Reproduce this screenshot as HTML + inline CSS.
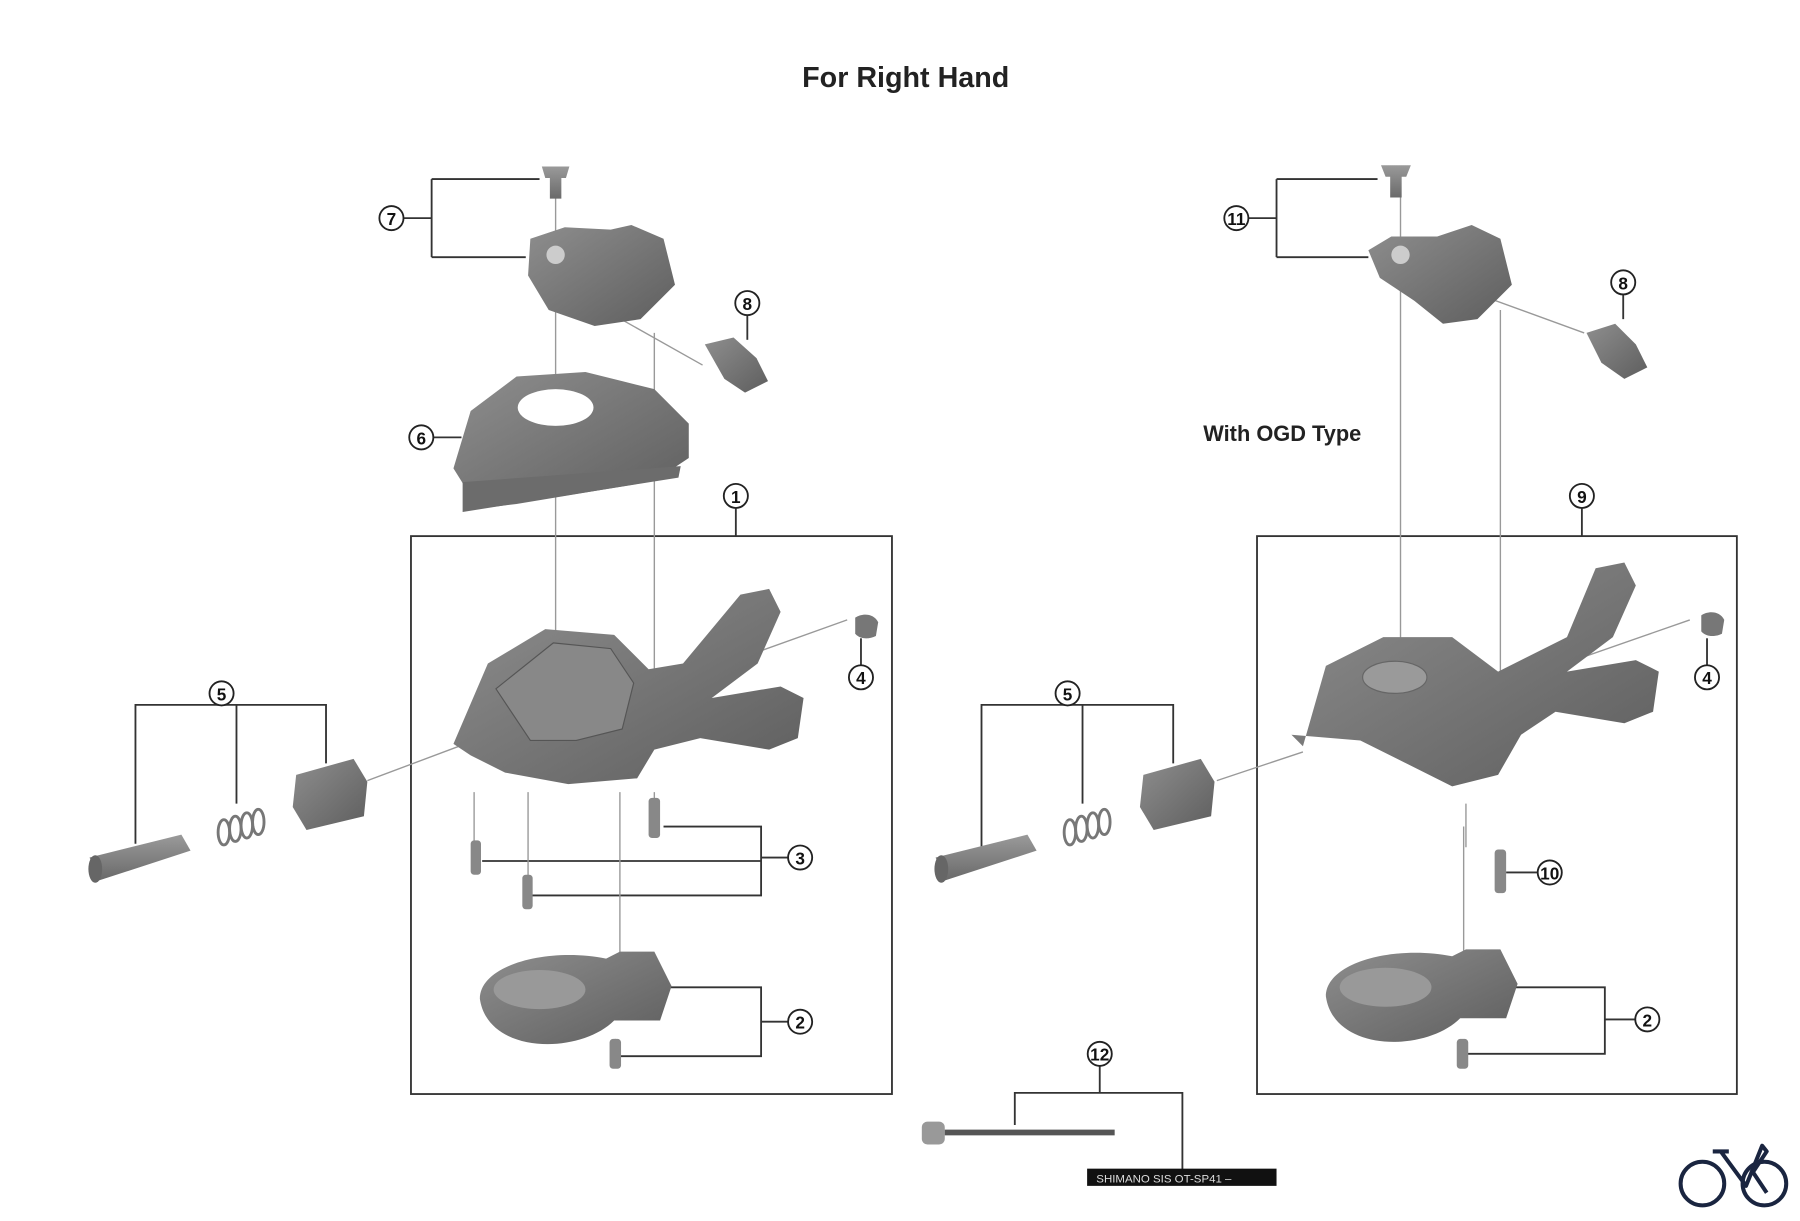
<!DOCTYPE html>
<html><head><meta charset="utf-8"><style>
html,body{margin:0;padding:0;background:#fff;}
svg{display:block;}
text{font-family:"Liberation Sans",Arial,sans-serif;}
</style></head><body>
<svg width="1800" height="1221" viewBox="0 0 1568 1063.6" preserveAspectRatio="none" xmlns="http://www.w3.org/2000/svg">
<defs>
<linearGradient id="g1" x1="0" y1="0" x2="0" y2="1"><stop offset="0" stop-color="#9a9a9a"/><stop offset="1" stop-color="#6a6a6a"/></linearGradient>
<linearGradient id="g2" x1="0" y1="0" x2="1" y2="1"><stop offset="0" stop-color="#8e8e8e"/><stop offset="1" stop-color="#5e5e5e"/></linearGradient>
<g id="c"><circle r="10.5" fill="#fff" stroke="#222" stroke-width="1.6"/></g>
<g id="spr" fill="none" stroke="#777" stroke-width="2.5"><ellipse cx="0" cy="0" rx="5" ry="11"/><ellipse cx="10" cy="-3" rx="5" ry="11"/><ellipse cx="20" cy="-6" rx="5" ry="11"/><ellipse cx="30" cy="-9" rx="5" ry="11"/></g>
</defs>
<rect width="1568" height="1064" fill="#fff"/>
<text x="789" y="76" text-anchor="middle" font-size="25" font-weight="bold" fill="#222">For Right Hand</text>
<text x="1117" y="384" text-anchor="middle" font-size="19" font-weight="bold" fill="#222">With OGD Type</text>

<g fill="none" stroke="#333" stroke-width="1.6">
<rect x="358" y="467" width="419" height="486"/>
<rect x="1095" y="467" width="418" height="486"/>
<path d="M352 190H376M376 156V224M376 156H470M376 224H458"/>
<path d="M651 275V296"/>
<path d="M378 381H402"/>
<path d="M641 443V467"/>
<path d="M118 735V614H284V665M206 614V700"/>
<path d="M750 579V556"/>
<path d="M686 747H663M578 720H663V780H460M420 750H663"/>
<path d="M686 890H663M560 860H663V920H540"/>
<path d="M958 929V952M884 980V952H1030V1020"/>
<path d="M1066 190H1112M1112 156V224M1112 156H1200M1112 224H1192"/>
<path d="M1414 257V278"/>
<path d="M1378 443V467"/>
<path d="M1487 579V556"/>
<path d="M855 740V614H1022V665M943 614V700"/>
<path d="M1339 760H1312"/>
<path d="M1424 888H1398M1312 860H1398V918H1277"/>
</g>
<g fill="none" stroke="#999" stroke-width="1.2">
<path d="M484 170V585M570 290V640M413 690V755M460 690V775M540 690V840M570 690V705M536 905V915"/>
<path d="M500 255L612 318M570 600L738 540M320 680L400 650"/>
<path d="M1220 170V595M1307 270V630M1275 720V860M1277 700V738"/>
<path d="M1237 238L1380 290M1300 600L1472 540M1060 680L1135 655"/>
</g>

<path d="M472 145h24l-3 10h-4v18h-10v-18h-4z" fill="url(#g1)"/>
<path d="M462 208l30-10 40 2 18-4 28 12 10 40-30 30-40 6-40-14-18-30z" fill="url(#g2)"/>
<circle cx="484" cy="222" r="8" fill="#ccc"/>
<path d="M614 300l25-6 20 18 10 20-20 10-18-12z" fill="url(#g2)"/>
<path d="M395 408l15-50 40-30 60-4 60 15 30 30 0 30-30 20-120 20-40 5-5-20z" fill="url(#g2)"/>
<ellipse cx="484" cy="355" rx="33" ry="16" fill="#fff"/>
<path d="M403 420l190-14-2 10-188 30z" fill="#6c6c6c"/>
<path d="M395 648l30-70 50-30 60 5 30 30 30-5 50-60 25-5 10 20-20 45-40 30 60-10 20 10-5 35-25 10-60-10-40 10-15 25-60 5-55-10-30-15z" fill="url(#g2)"/>
<path d="M432 600l50-40 50 5 20 30-10 40-40 10-40 0z" fill="#888" stroke="#555" stroke-width="1"/>
<path d="M745 538c6-4 16-4 20 4l-2 12c-6 3-14 3-18-2z" fill="#777"/>
<path d="M78 747l80-20 8 14-80 26z" fill="url(#g1)"/>
<ellipse cx="83" cy="757" rx="6" ry="12" fill="#666"/>
<use href="#spr" x="195" y="725"/>
<path d="M258 675l50-14 12 20-3 30-50 12-12-20z" fill="url(#g2)"/>
<rect x="565" y="695" width="10" height="35" rx="3" fill="#888"/>
<rect x="410" y="732" width="9" height="30" rx="3" fill="#888"/>
<rect x="455" y="762" width="9" height="30" rx="3" fill="#888"/>
<rect x="531" y="905" width="10" height="26" rx="3" fill="#888"/>
<path d="M418 870c0-30 60-45 110-35l12-6 30 0 15 30-10 30-40 0c-30 30-110 30-117-19z" fill="url(#g2)"/>
<ellipse cx="470" cy="862" rx="40" ry="17" fill="#999"/>

<path d="M1203 144h26l-4 10h-4v18h-10v-18h-4z" fill="url(#g1)"/>
<path d="M1192 218l20-12 40 0 30-10 25 12 10 40-30 30-30 4-25-20-30-20z" fill="url(#g2)"/>
<circle cx="1220" cy="222" r="8" fill="#ccc"/>
<path d="M1382 290l25-8 18 18 10 20-20 10-20-14z" fill="url(#g2)"/>
<path d="M1135 650l20-70 50-25 60 0 40 30 60-30 25-60 25-5 10 20-20 45-40 30 60-10 20 10-5 35-25 10-60-10-30 20-20 35-40 10-40-20-40-20-60-5z" fill="url(#g2)"/>
<ellipse cx="1215" cy="590" rx="28" ry="14" fill="#9a9a9a" stroke="#666"/>
<path d="M1482 536c6-4 16-4 20 4l-2 12c-6 3-14 3-18-2z" fill="#777"/>
<path d="M815 747l80-20 8 14-80 26z" fill="url(#g1)"/>
<ellipse cx="820" cy="757" rx="6" ry="12" fill="#666"/>
<use href="#spr" x="932" y="725"/>
<path d="M996 675l50-14 12 20-3 30-50 12-12-20z" fill="url(#g2)"/>
<rect x="1302" y="740" width="10" height="38" rx="3" fill="#888"/>
<rect x="1269" y="905" width="10" height="26" rx="3" fill="#888"/>
<path d="M1155 868c0-30 60-45 110-35l12-6 30 0 15 30-10 30-40 0c-30 30-110 30-117-19z" fill="url(#g2)"/>
<ellipse cx="1207" cy="860" rx="40" ry="17" fill="#999"/>

<rect x="803" y="977" width="20" height="20" rx="5" fill="#999"/>
<rect x="823" y="984" width="148" height="5" fill="#555"/>
<rect x="947" y="1018" width="165" height="15" fill="#111"/>
<text x="955" y="1030" font-size="10" fill="#ddd">SHIMANO SIS  OT-SP41 –</text>

<g fill="none" stroke="#1a2540" stroke-width="3.5" stroke-linejoin="round">
<circle cx="1483" cy="1031" r="19"/><circle cx="1537" cy="1031" r="19"/>
<path d="M1492 1003h14M1499 1003l22 30 14-35 4 5-12 18 12 18"/>
</g>

<g font-size="15" font-weight="bold" text-anchor="middle" fill="#111">
<use href="#c" x="341" y="190"/><text x="341" y="196">7</text>
<use href="#c" x="651" y="264"/><text x="651" y="270">8</text>
<use href="#c" x="367" y="381"/><text x="367" y="387">6</text>
<use href="#c" x="641" y="432"/><text x="641" y="438">1</text>
<use href="#c" x="750" y="590"/><text x="750" y="596">4</text>
<use href="#c" x="193" y="604"/><text x="193" y="610">5</text>
<use href="#c" x="697" y="747"/><text x="697" y="753">3</text>
<use href="#c" x="697" y="890"/><text x="697" y="896">2</text>
<use href="#c" x="958" y="918"/><text x="958" y="924">12</text>
<use href="#c" x="1077" y="190"/><text x="1077" y="196">11</text>
<use href="#c" x="1414" y="246"/><text x="1414" y="252">8</text>
<use href="#c" x="1378" y="432"/><text x="1378" y="438">9</text>
<use href="#c" x="1487" y="590"/><text x="1487" y="596">4</text>
<use href="#c" x="930" y="604"/><text x="930" y="610">5</text>
<use href="#c" x="1350" y="760"/><text x="1350" y="766">10</text>
<use href="#c" x="1435" y="888"/><text x="1435" y="894">2</text>
</g>
</svg>
</body></html>
